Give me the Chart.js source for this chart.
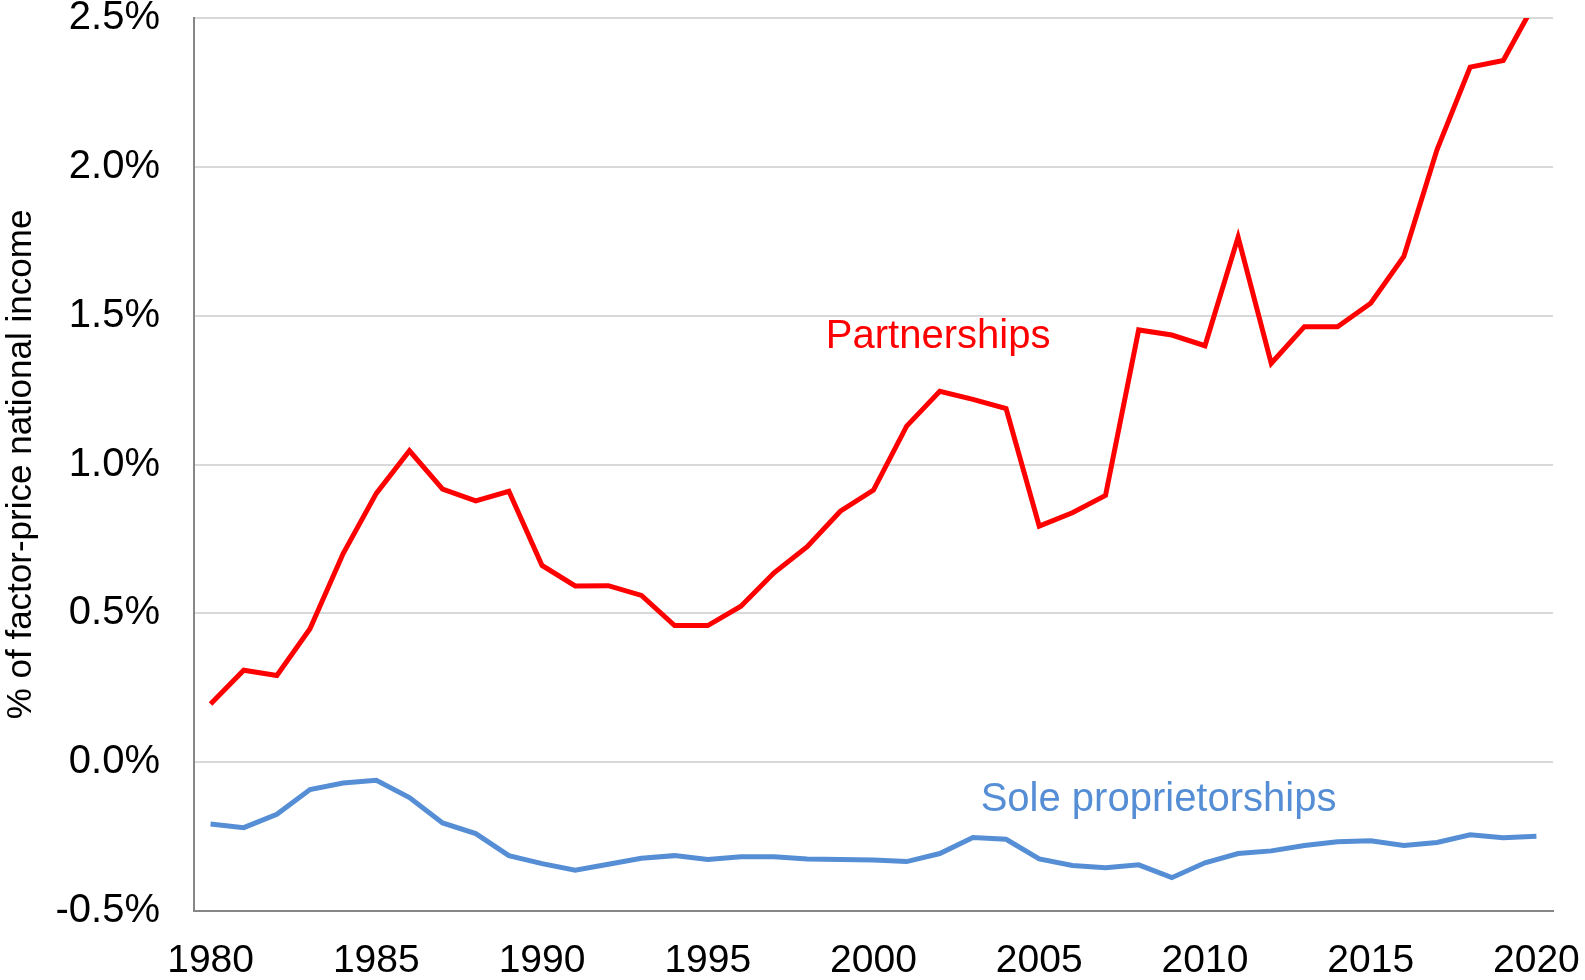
<!DOCTYPE html>
<html>
<head>
<meta charset="utf-8">
<script src="https://cdn.jsdelivr.net/npm/chart.js@4.4.1/dist/chart.umd.min.js"></script>
<style>
  html, body { margin: 0; padding: 0; background: #fff; }
  #wrap { width: 1585px; height: 980px; }
</style>
</head>
<body>
<div id="wrap"><canvas id="myChart" width="1585" height="980"></canvas></div>
<script>
const years = [];
for (let y = 1980; y <= 2020; y++) years.push(y);

// % of factor-price national income
const partnerships = [
  0.195, 0.309, 0.291, 0.448, 0.701, 0.903, 1.046, 0.917, 0.878, 0.910,
  0.661, 0.592, 0.593, 0.560, 0.459, 0.459, 0.524, 0.636, 0.724, 0.843,
  0.914, 1.129, 1.246, 1.219, 1.188, 0.793, 0.838, 0.896, 1.452, 1.435,
  1.399, 1.764, 1.340, 1.463, 1.463, 1.542, 1.699, 2.057, 2.335, 2.357,
  2.560
];
const soleProps = [
  -0.208, -0.220, -0.175, -0.092, -0.070, -0.061, -0.119, -0.204, -0.240, -0.314,
  -0.341, -0.363, -0.343, -0.323, -0.314, -0.327, -0.318, -0.318, -0.325, -0.327,
  -0.329, -0.334, -0.307, -0.253, -0.259, -0.325, -0.347, -0.355, -0.345, -0.388,
  -0.338, -0.307, -0.298, -0.280, -0.267, -0.264, -0.280, -0.270, -0.244, -0.254,
  -0.249
];
const yTicks = [-0.5, 0, 0.5, 1.0, 1.5, 2.0, 2.5];

const FONT = "'Liberation Sans', Arial, sans-serif";
const RED = '#FF0000';
const BLUE = '#558ED5';

// series names drawn inside the plot (year index, value)
const seriesLabels = [
  { text: 'Partnerships', x: 21.95, y: 1.43, color: RED },
  { text: 'Sole proprietorships', x: 28.6, y: -0.128, color: BLUE }
];

const labelPlugin = {
  id: 'seriesLabels',
  afterDatasetsDraw(chart) {
    const { ctx, scales } = chart;
    ctx.save();
    ctx.font = '40px ' + FONT;
    ctx.textAlign = 'center';
    ctx.textBaseline = 'middle';
    seriesLabels.forEach(l => {
      ctx.fillStyle = l.color;
      ctx.fillText(l.text, scales.x.getPixelForValue(l.x), scales.y.getPixelForValue(l.y));
    });
    ctx.restore();
  }
};

function noPad(scale) {
  scale.paddingTop = 0;
  scale.paddingBottom = 0;
  scale.paddingLeft = 0;
  scale.paddingRight = 0;
}

const ctx = document.getElementById('myChart');

new Chart(ctx, {
  type: 'line',
  data: {
    labels: years,
    datasets: [{
      label: 'Partnerships',
      data: partnerships,
      borderColor: RED,
      borderWidth: 5,
      pointRadius: 0,
      tension: 0,
      clip: 0
    }, {
      label: 'Sole proprietorships',
      data: soleProps,
      borderColor: BLUE,
      borderWidth: 5,
      pointRadius: 0,
      tension: 0,
      clip: 0
    }]
  },
  options: {
    responsive: false,
    animation: false,
    layout: { padding: { top: 18, right: 32, left: 0, bottom: 0 } },
    plugins: {
      legend: { display: false },
      tooltip: { enabled: false }
    },
    scales: {
      x: {
        type: 'category',
        offset: true,
        grid: { display: false, drawTicks: false },
        border: { color: '#868686', width: 2 },
        ticks: {
          autoSkip: false,
          maxRotation: 0,
          padding: 27,
          color: '#000',
          font: { family: FONT, size: 39 },
          callback: function (val) {
            const yr = this.getLabelForValue(val);
            return yr % 5 === 0 ? String(yr) : '';
          }
        },
        afterFit(scale) { scale.height = 69; noPad(scale); }
      },
      y: {
        min: -0.5,
        max: 2.5,
        afterBuildTicks(scale) { scale.ticks = yTicks.map(v => ({ value: v })); },
        grid: { color: '#D9D9D9', lineWidth: 2, drawTicks: false },
        border: { color: '#868686', width: 2 },
        ticks: {
          padding: 34,
          color: '#000',
          font: { family: FONT, size: 40 },
          callback: v => v.toFixed(1) + '%'
        },
        title: {
          display: true,
          text: '% of factor-price national income',
          color: '#000',
          font: { family: FONT, size: 35 },
          padding: { top: 0, bottom: 0 }
        },
        afterFit(scale) { scale.width = 194; noPad(scale); }
      }
    }
  },
  plugins: [labelPlugin]
});
</script>
</body>
</html>
